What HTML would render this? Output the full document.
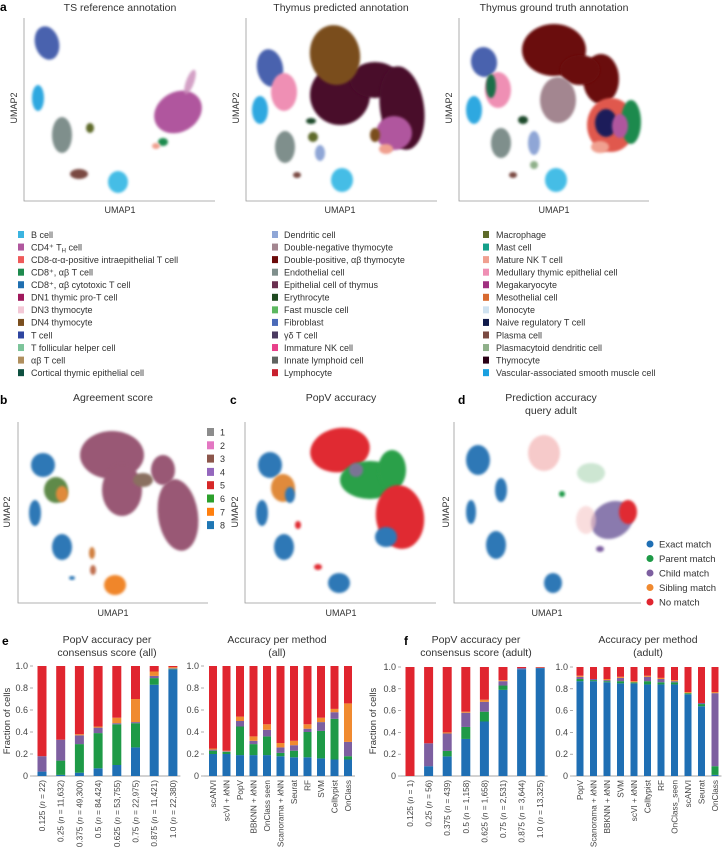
<!DOCTYPE html>
<html><head><meta charset="utf-8"><style>
html,body{margin:0;padding:0;background:#fff;}
svg{display:block;font-family:"Liberation Sans",sans-serif;}
</style></head><body>
<svg id="fig" width="722" height="849" viewBox="0 0 722 849" xmlns="http://www.w3.org/2000/svg">
<defs><filter id="bl" x="-30%" y="-30%" width="160%" height="160%"><feGaussianBlur stdDeviation="1.3"/></filter></defs>
<g id="umaps"></g>
<g id="legA"></g>
<g id="charts"></g>
</svg>
<script>
const NS="http://www.w3.org/2000/svg";
function mk(tag,attrs,parent,txt){const e=document.createElementNS(NS,tag);for(const k in attrs)e.setAttribute(k,attrs[k]);if(txt!==undefined)e.textContent=txt;parent.appendChild(e);return e;}
const U=document.getElementById('umaps');
const axesU=[[24,18,201,215],[246,18,201,437],[459,18,201,649],[18,422,603,208],[245,422,603,436],[454,422,603,641]];
axesU.forEach((a,i)=>{
  const p=mk('path',{d:`M${a[0]} ${a[1]}V${a[2]}H${a[3]}`,fill:'none',stroke:'#999','stroke-width':0.8},U);
  
  
});
const blobs=[
// a1
[47,43,12,17,-15,'#4a62ae',1],[38,98,6,13,0,'#2fa8e0',1],[62,135,10,18,0,'#7f8f8c',1],[90,128,4,5,0,'#5e6b2a',1],[79,174,9,5,0,'#7a4a42',1],[118,182,10,11,0,'#45bde6',1],[178,112,25,20,-30,'#b0579e',1],[190,82,4,13,20,'#c98ab8',0.8],[163,142,5,4,0,'#1e8a4e',1],[156,146,4,3,0,'#f0a090',1],
// a2
[340,95,30,30,0,'#4a0d2c',1],[375,80,25,18,0,'#4a0d2c',1],[402,108,22,42,-8,'#4a0d2c',1],[335,55,25,30,-10,'#7a4e1e',1],[394,133,18,17,0,'#b0579e',1],[375,135,5,7,0,'#7a4e1e',1],[386,149,7,5,0,'#f0a090',1],
[270,68,13,19,-10,'#4a62ae',1],[284,92,13,19,0,'#ef8fb4',1],[260,110,8,14,0,'#2fa8e0',1],[285,147,10,16,0,'#7f8f8c',1],[313,137,5,5,0,'#5e6b2a',1],[320,153,5,8,0,'#8fa6d6',1],[342,180,11,12,0,'#45bde6',1],[297,175,4,3,0,'#7a4a42',1],[311,121,5,3,0,'#1e4a2a',1],
// a3
[554,50,32,26,0,'#6b0a0a',1],[601,79,18,25,0,'#6b0a0a',1],[580,70,20,15,0,'#6b0a0a',1],[558,100,18,23,0,'#a38690',1],[611,125,24,27,0,'#e0584e',1],[631,122,10,22,0,'#1e8a4e',1],[606,123,11,14,0,'#1a1f5a',1],[620,126,8,12,0,'#b0579e',1],[600,147,9,6,0,'#f0a090',1],
[484,62,13,15,-10,'#4a62ae',1],[498,90,13,18,0,'#ef8fb4',1],[491,86,5,12,0,'#1e6e4a',1],[474,110,8,14,0,'#2fa8e0',1],[501,143,10,15,0,'#7f8f8c',1],[534,143,6,12,0,'#8fa6d6',1],[534,165,4,4,0,'#8fb08a',1],[556,180,11,12,0,'#45bde6',1],[513,175,4,3,0,'#7a4a42',1],[523,120,5,4,0,'#1e4a2a',1],
// b
[112,455,32,24,0,'#995874',1],[122,490,20,26,0,'#995874',1],[178,515,20,36,-8,'#995874',1],[163,470,12,15,0,'#995874',1],[143,480,10,7,0,'#8a7060',1],[43,465,12,12,0,'#2f78b6',1],[56,490,12,13,0,'#5e8a48',1],[62,494,6,8,0,'#e08a3a',1],[35,513,6,13,0,'#2f78b6',1],[62,547,10,13,0,'#2f78b6',1],[92,553,3,6,0,'#d08040',1],[93,570,3,5,0,'#c07050',1],[115,585,11,10,0,'#f0862a',1],[72,578,3,2,0,'#2f78b6',1],
// c
[340,450,30,22,-10,'#e02a30',1],[370,480,30,19,0,'#2aa04a',1],[392,470,14,20,0,'#2aa04a',1],[400,517,24,32,-8,'#e02a30',1],[386,537,11,10,0,'#2f78b6',1],[356,470,7,7,0,'#8f6aa8',0.8],[270,465,12,13,0,'#2f78b6',1],[283,488,12,14,0,'#e08a3a',1],[290,495,5,8,0,'#2f78b6',1],[262,513,6,13,0,'#2f78b6',1],[284,547,10,13,0,'#2f78b6',1],[339,583,11,10,0,'#2f78b6',1],[318,567,4,3,0,'#e02a30',1],[298,525,3,4,0,'#e02a30',1],
// d
[478,460,12,15,0,'#2f78b6',1],[501,490,6,12,0,'#2f78b6',1],[471,512,5,12,0,'#2f78b6',1],[496,545,10,14,0,'#2f78b6',1],[553,583,9,10,0,'#2f78b6',1],[544,453,16,18,0,'#f3b4b4',0.7],[591,473,14,10,0,'#b8dcc0',0.7],[562,494,3,3,0,'#1e9a47',1],[612,520,22,18,-30,'#8a7aae',1],[628,512,9,12,0,'#e02a30',1],[600,549,4,3,0,'#7d5fa0',1],[586,520,10,14,0,'#f6c8c8',0.6]
];
blobs.forEach(b=>{
  const e=mk('ellipse',{cx:b[0],cy:b[1],rx:b[2],ry:b[3],transform:`rotate(${b[4]} ${b[0]} ${b[1]})`,fill:b[5],opacity:b[6],filter:'url(#bl)'},U);
  
  
});
function txt(x,y,s,opts,parent,name){const t=mk('text',Object.assign({x:x,y:y,'font-size':10,fill:'#333'},opts||{}),parent||U,s);return t;}
txt(0,11,'a',{'font-weight':'bold','font-size':12,fill:'#000'},U,'panel-letter-a');
[[120,'TS reference annotation'],[341,'Thymus predicted annotation'],[554,'Thymus ground truth annotation']].forEach(t=>txt(t[0],11,t[1],{'text-anchor':'middle','font-size':10.5},U,'umap-title'));
[120,340,554].forEach(x=>txt(x,213,'UMAP1',{'text-anchor':'middle','font-size':9},U,'x-axis-title'));
[17,239,452].forEach(x=>txt(x,108,'UMAP2',{'text-anchor':'middle','font-size':9,transform:`rotate(-90 ${x} 108)`},U,'y-axis-title'));
txt(0,404,'b',{'font-weight':'bold','font-size':12,fill:'#000'},U,'panel-letter-b');
txt(230,404,'c',{'font-weight':'bold','font-size':12,fill:'#000'},U,'panel-letter-c');
txt(458,404,'d',{'font-weight':'bold','font-size':12,fill:'#000'},U,'panel-letter-d');
txt(113,401,'Agreement score',{'text-anchor':'middle','font-size':10.5},U,'umap-title');
txt(341,401,'PopV accuracy',{'text-anchor':'middle','font-size':10.5},U,'umap-title');
txt(551,401,'Prediction accuracy',{'text-anchor':'middle','font-size':10.5},U,'umap-title');
txt(551,414,'query adult',{'text-anchor':'middle','font-size':10.5},U,'umap-title');
[113,341,547].forEach(x=>txt(x,616,'UMAP1',{'text-anchor':'middle','font-size':9},U,'x-axis-title'));
[10,238,449].forEach(x=>txt(x,512,'UMAP2',{'text-anchor':'middle','font-size':9,transform:`rotate(-90 ${x} 512)`},U,'y-axis-title'));
const agreeCols=['#8c8c8c','#e377c2','#8c564b','#9467bd','#d62728','#2ca02c','#ff7f0e','#1f77b4'];
agreeCols.forEach((c,i)=>{const y=432+13.3*i;const r=mk('rect',{x:207,y:y-4,width:7,height:8,fill:c},U);txt(220,y+3.5,String(i+1),{'font-size':9},U,'agreement-legend-label');});
const matchNames=['Exact match','Parent match','Child match','Sibling match','No match'];
const matchCols=['#1f6fb4','#1e9a47','#7d5fa0','#f08a30','#e0252f'];
matchNames.forEach((n,i)=>{const y=544+14.5*i;const c=mk('circle',{cx:650,cy:y,r:3.5,fill:matchCols[i]},U);txt(659,y+3.5,n,{'font-size':9.5},U,'match-legend-label');});
const L=document.getElementById('legA');
const legCols=[[18,31,[['B cell','#3bb4e0'],['CD4⁺ T<tspan font-size="6" dy="2">H</tspan><tspan dy="-2"> cell</tspan>','#b0579e'],['CD8-α-α-positive intraepithelial T cell','#ef5a5a'],['CD8⁺, αβ T cell','#1e8a4e'],['CD8⁺, αβ cytotoxic T cell','#1f6fb0'],['DN1 thymic pro-T cell','#a0185c'],['DN3 thymocyte','#f3c8d6'],['DN4 thymocyte','#7a4e1e'],['T cell','#2e45a0'],['T follicular helper cell','#7cc49a'],['αβ T cell','#b08f5e'],['Cortical thymic epithelial cell','#0e5040']]],
[272,284,[['Dendritic cell','#8fa6d6'],['Double-negative thymocyte','#a38690'],['Double-positive, αβ thymocyte','#6b0a0a'],['Endothelial cell','#7f8f8c'],['Epithelial cell of thymus','#6a3050'],['Erythrocyte','#1e4a20'],['Fast muscle cell','#5cb860'],['Fibroblast','#4a6ab8'],['γδ T cell','#4a3a60'],['Immature NK cell','#e8408a'],['Innate lymphoid cell','#5f6360'],['Lymphocyte','#c8202e']]],
[483,496,[['Macrophage','#5e6b2a'],['Mast cell','#14a08a'],['Mature NK T cell','#f0a090'],['Medullary thymic epithelial cell','#ef8fb4'],['Megakaryocyte','#a03080'],['Mesothelial cell','#d86a30'],['Monocyte','#cfe2f0'],['Naive regulatory T cell','#101a4a'],['Plasma cell','#7a4a42'],['Plasmacytoid dendritic cell','#8fb08a'],['Thymocyte','#2a0015'],['Vascular-associated smooth muscle cell','#1aa0e0']]]];
legCols.forEach(col=>col[2].forEach((it,i)=>{const y=234.5+12.56*i;
  const r=mk('rect',{x:col[0],y:y-3.5,width:6,height:7,fill:it[1]},L);
  const t=mk('text',{x:col[1],y:y+3.3,'font-size':9,fill:'#333'},L);t.innerHTML=it[0];}));
</script>
<script>
const eScoreCats=['0.125|22','0.25|11,632','0.375|49,300','0.5|84,424','0.625|53,755','0.75|22,975','0.875|11,421','1.0|22,380'];
const eScoreExact=[0.04,0.01,0.03,0.07,0.10,0.26,0.83,0.97];
const eScoreParent=[0.00,0.13,0.26,0.32,0.37,0.22,0.06,0.005];
const eScoreChild=[0.14,0.19,0.08,0.05,0.01,0.01,0.02,0.005];
const eScoreSibling=[0.00,0.00,0.01,0.01,0.05,0.21,0.04,0.01];
const eMethodCats=['scANVI','scVI + kNN','PopV','BBKNN + kNN','OnClass seen','Scanorama + kNN','Seurat','RF','SVM','Celltypist','OnClass'];
const eMethodExact=[0.20,0.20,0.19,0.19,0.19,0.18,0.17,0.17,0.16,0.15,0.15];
const eMethodParent=[0.03,0.02,0.26,0.10,0.17,0.03,0.06,0.23,0.25,0.37,0.03];
const eMethodChild=[0.01,0.005,0.05,0.03,0.06,0.05,0.05,0.03,0.08,0.06,0.13];
const eMethodSibling=[0.01,0.005,0.04,0.04,0.05,0.04,0.04,0.04,0.04,0.03,0.35];
const fScoreCats=['0.125|1','0.25|56','0.375|439','0.5|1,158','0.625|1,658','0.75|2,531','0.875|3,644','1.0|13,325'];
const fScoreExact=[0.00,0.09,0.18,0.34,0.50,0.79,0.98,0.99];
const fScoreParent=[0.00,0.00,0.05,0.11,0.09,0.04,0.00,0.00];
const fScoreChild=[0.00,0.21,0.16,0.13,0.09,0.04,0.01,0.003];
const fScoreSibling=[0.00,0.00,0.01,0.01,0.02,0.01,0.00,0.002];
const fMethodCats=['PopV','Scanorama + kNN','BBKNN + kNN','SVM','scVI + kNN','Celltypist','RF','OnClass_seen','scANVI','Seurat','OnClass'];
const fMethodExact=[0.87,0.87,0.86,0.85,0.85,0.84,0.84,0.84,0.75,0.64,0.01];
const fMethodParent=[0.02,0.01,0.01,0.02,0.01,0.03,0.02,0.02,0.01,0.02,0.08];
const fMethodChild=[0.02,0.01,0.01,0.03,0.00,0.04,0.03,0.01,0.00,0.01,0.67];
const fMethodSibling=[0.01,0.00,0.01,0.01,0.01,0.01,0.01,0.01,0.01,0.00,0.01];
const yTicks=[0,0.2,0.4,0.6,0.8,1.0];
const yTickLabels=['0','0.2','0.4','0.6','0.8','1.0'];
const segColors=['#1f6fb4','#1e9a47','#7d5fa0','#f08a30','#e0252f'];
const CH=document.getElementById('charts');
function mk2(tag,attrs,parent,txt){const e=document.createElementNS("http://www.w3.org/2000/svg",tag);for(const k in attrs)e.setAttribute(k,attrs[k]);if(txt!==undefined)e.textContent=txt;parent.appendChild(e);return e;}
function chart(cfg){
  const g=mk2('g',{},CH);
  
  
  const y0=cfg.y0,y1=cfg.y1;
  const yS=v=>y0-(y0-y1)*v;
  const xS=i=>cfg.x0+cfg.step*i;
  yTicks.forEach((v,i)=>{
    const l=mk2('line',{x1:cfg.axisX-3,x2:cfg.axisX,y1:yS(v),y2:yS(v),stroke:'#888','stroke-width':0.7},g);
    
    
    const t=mk2('text',{x:cfg.axisX-5,y:yS(v)+3,'text-anchor':'end','font-size':9,fill:'#444'},g,yTickLabels[i]);
    
    
  });
  const ax=mk2('line',{x1:cfg.axisX,x2:xS(cfg.cats.length-1)+cfg.w/2+3,y1:y0,y2:y0,stroke:'#888','stroke-width':0.7},g);
  
  
  cfg.cats.forEach((c,i)=>{
    const vals=[cfg.s[0][i],cfg.s[1][i],cfg.s[2][i],cfg.s[3][i]];
    let acc=0;
    vals.forEach((v,k)=>{
      const r=mk2('rect',{x:xS(i)-cfg.w/2,y:yS(acc+v),width:cfg.w,height:Math.max(0,yS(acc)-yS(acc+v)),fill:segColors[k]},g);
      
      
      acc+=v;
    });
    const r=mk2('rect',{x:xS(i)-cfg.w/2,y:yS(1),width:cfg.w,height:Math.max(0,yS(acc)-yS(1)),fill:segColors[4]},g);
    
    
    const t=mk2('text',{x:xS(i)+3,y:y0+4,'text-anchor':'end','font-size':8.2,fill:'#444',transform:`rotate(-90 ${xS(i)+3} ${y0+4})`},g);
    const parts=c.split('|');
    if(parts.length>1){t.innerHTML=parts[0]+' (<tspan font-style="italic">n</tspan> = '+parts[1]+')';}
    else{t.innerHTML=c.replace('kNN','<tspan font-style="italic">k</tspan>NN');}
    
    
  });
  cfg.title.forEach((s,i)=>{
    const t=mk2('text',{x:cfg.tx,y:cfg.ty+13*i,'text-anchor':'middle','font-size':10.5,fill:'#333'},g,s);
    
    
  });
}
chart({name:'chart-e-consensus',cats:eScoreCats,s:[eScoreExact,eScoreParent,eScoreChild,eScoreSibling],x0:42,step:18.7,w:9,axisX:33,y0:776,y1:666,title:['PopV accuracy per','consensus score (all)'],tx:107,ty:643});
chart({name:'chart-e-method',cats:eMethodCats,s:[eMethodExact,eMethodParent,eMethodChild,eMethodSibling],x0:213,step:13.5,w:8,axisX:204,y0:776,y1:666,title:['Accuracy per method','(all)'],tx:277,ty:643});
chart({name:'chart-f-consensus',cats:fScoreCats,s:[fScoreExact,fScoreParent,fScoreChild,fScoreSibling],x0:410,step:18.6,w:9,axisX:401,y0:776,y1:667,title:['PopV accuracy per','consensus score (adult)'],tx:476,ty:643});
chart({name:'chart-f-method',cats:fMethodCats,s:[fMethodExact,fMethodParent,fMethodChild,fMethodSibling],x0:580,step:13.5,w:7,axisX:573,y0:776,y1:667,title:['Accuracy per method','(adult)'],tx:648,ty:643});
function lab(x,y,s,o,name){const t=mk2('text',Object.assign({x:x,y:y,fill:'#333'},o),CH,s);}
lab(2,645,'e',{'font-weight':'bold','font-size':12,fill:'#000'},'panel-letter-e');
lab(404,645,'f',{'font-weight':'bold','font-size':12,fill:'#000'},'panel-letter-f');
lab(10,721,'Fraction of cells',{'text-anchor':'middle','font-size':9.5,transform:'rotate(-90 10 721)'},'y-axis-title-e');
lab(376,721,'Fraction of cells',{'text-anchor':'middle','font-size':9.5,transform:'rotate(-90 376 721)'},'y-axis-title-f');
</script>
</body></html>
